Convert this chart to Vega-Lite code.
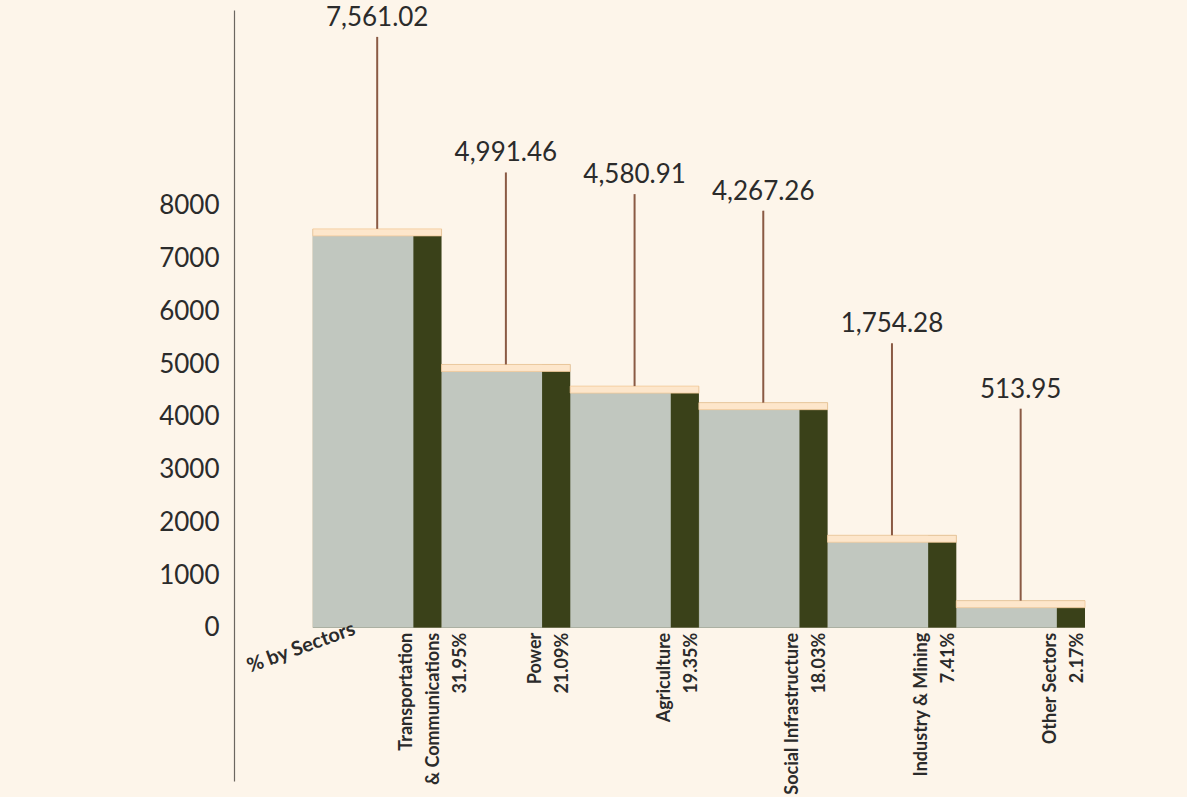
{
  "$schema": "https://vega.github.io/schema/vega-lite/v6.json",
  "width": 1187,
  "height": 797,
  "autosize": {"type": "fit", "contains": "padding"},
  "padding": {"left": 158, "top": 10, "bottom": 7, "right": 0},
  "background": "#fdf5ea",
  "config": {
    "view": {"stroke": null},
    "font": "Lato",
    "text": {"font": "Lato"}
  },
  "data": {
    "values": [
      {"sector": "Transportation & Communications", "label": "Transportation\n& Communications\n31.95%", "value": 7561.02},
      {"sector": "Power", "label": "Power\n21.09%", "value": 4991.46},
      {"sector": "Agriculture", "label": "Agriculture\n19.35%", "value": 4580.91},
      {"sector": "Social Infrastructure", "label": "Social Infrastructure\n18.03%", "value": 4267.26},
      {"sector": "Industry & Mining", "label": "Industry & Mining\n7.41%", "value": 1754.28},
      {"sector": "Other Sectors", "label": "Other Sectors\n2.17%", "value": 513.95}
    ]
  },
  "encoding": {
    "x": {
      "field": "sector",
      "type": "nominal",
      "sort": null,
      "axis": null,
      "scale": {"paddingInner": 0, "paddingOuter": 0.7026, "align": 0.436}
    }
  },
  "layer": [
    {
      "mark": {"type": "bar", "color": "#3a4119", "width": {"band": 1}},
      "encoding": {
        "y": {
          "field": "value",
          "type": "quantitative",
          "scale": {"domain": [-2904, 11710], "nice": false, "zero": false},
          "axis": {
            "values": [0, 1000, 2000, 3000, 4000, 5000, 6000, 7000, 8000],
            "title": null,
            "grid": false,
            "ticks": false,
            "labelFontSize": 26,
            "labelColor": "#2b2b2b",
            "labelFont": "Lato",
            "labelPadding": 15,
            "domainColor": "#6b6660",
            "domainWidth": 1.2,
            "format": "d"
          }
        },
        "y2": {"datum": 0}
      }
    },
    {
      "mark": {"type": "bar", "color": "#c1c7bf", "width": {"band": 0.78}, "xOffset": -14},
      "encoding": {
        "y": {"field": "value", "type": "quantitative"},
        "y2": {"datum": 0}
      }
    },
    {
      "mark": {"type": "bar", "color": "#fde6cb", "stroke": "#f3c999", "strokeWidth": 0.8, "width": {"band": 1}, "y2Offset": 7},
      "encoding": {
        "y": {"field": "value", "type": "quantitative"},
        "y2": {"field": "value"}
      }
    },
    {
      "mark": {"type": "rule", "color": "#8a5a44", "strokeWidth": 2, "y2Offset": -192},
      "encoding": {
        "y": {"field": "value", "type": "quantitative"},
        "y2": {"field": "value"}
      }
    },
    {
      "mark": {"type": "text", "fontSize": 26, "color": "#2b2b2b", "baseline": "bottom", "yOffset": -198},
      "encoding": {
        "y": {"field": "value", "type": "quantitative"},
        "text": {"field": "value", "type": "quantitative", "format": ",.2f"}
      }
    },
    {
      "mark": {"type": "text", "fontSize": 18, "fontWeight": "bold", "color": "#2b2b2b", "angle": 270, "align": "right", "baseline": "middle", "lineBreak": "\n", "lineHeight": 27, "xOffset": 30, "yOffset": 5},
      "encoding": {
        "y": {"datum": 0},
        "text": {"field": "label"}
      }
    },
    {
      "data": {"values": [{"title": "% by Sectors"}]},
      "mark": {"type": "text", "fontSize": 20, "fontWeight": "bold", "color": "#2b2b2b", "angle": 340, "xOffset": -76, "yOffset": 20},
      "encoding": {
        "x": {"datum": "Transportation & Communications"},
        "y": {"datum": 0},
        "text": {"field": "title"}
      }
    }
  ]
}
